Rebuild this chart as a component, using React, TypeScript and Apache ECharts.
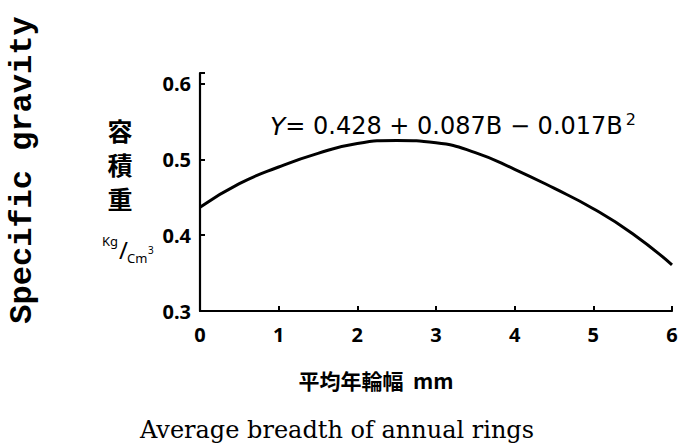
import React, { useEffect, useRef } from "react";
import * as echarts from "echarts";

const breadth = [0, 0.5, 1, 1.5, 2, 2.5, 3, 3.5, 4, 4.5, 5, 5.5, 6];
const gravity = [0.437, 0.468, 0.49, 0.508, 0.521, 0.525, 0.522, 0.509, 0.487, 0.462, 0.435, 0.402, 0.361];
const xTicks = [0, 1, 2, 3, 4, 5, 6];
const yTicks = [0.3, 0.4, 0.5, 0.6];

export default function App() {
  const ref = useRef<HTMLDivElement>(null);
  useEffect(() => {
    if (!ref.current) return;
    const chart = echarts.init(ref.current, null, { renderer: "svg" });
    const data = breadth.map((b, i) => [b, gravity[i]]);
    chart.setOption({
      animation: false,
      backgroundColor: "#fff",
      grid: { left: 200, top: 73, right: 17, bottom: 132, containLabel: false },
      xAxis: {
        type: "value",
        min: xTicks[0],
        max: xTicks[xTicks.length - 1],
        interval: 1,
        splitLine: { show: false },
        axisLine: { lineStyle: { color: "#000", width: 2.2 } },
        axisTick: { inside: true, length: 5, lineStyle: { color: "#000", width: 2 } },
        axisLabel: {
          color: "#000",
          fontSize: 20,
          fontWeight: "bold",
          fontFamily: "Noto Sans",
          margin: 13,
          formatter: (v: number) => String(v),
        },
      },
      yAxis: {
        type: "value",
        min: yTicks[0],
        max: 0.614,
        interval: 0.1,
        splitLine: { show: false },
        axisLine: { lineStyle: { color: "#000", width: 2.2 } },
        axisTick: { inside: true, length: 5, lineStyle: { color: "#000", width: 2 } },
        axisLabel: {
          color: "#000",
          fontSize: 20,
          fontWeight: "bold",
          fontFamily: "Noto Sans",
          margin: 9,
          formatter: (v: number) => {
            const t = yTicks.find((y) => Math.abs(y - v) < 1e-6);
            return t === undefined ? "" : t.toFixed(1);
          },
        },
      },
      series: [
        {
          type: "line",
          data,
          smooth: true,
          showSymbol: false,
          lineStyle: { color: "#000", width: 3 },
        },
      ],
      graphic: [
        {
          type: "text",
          x: 270,
          y: 126,
          style: {
            text: "{y|Y}{a|= 0.428 + 0.087B − 0.017B}{s|2}",
            verticalAlign: "middle",
            rich: {
              y: { fontSize: 25, fontFamily: "DejaVu Sans", fill: "#000", fontStyle: "italic" },
              a: { fontSize: 24, fontFamily: "DejaVu Sans", fill: "#000" },
              s: { fontSize: 16, fontFamily: "DejaVu Sans", fill: "#000", verticalAlign: "top", padding: [0, 0, 14, 3] },
            },
          },
        },
        {
          type: "text",
          x: 22,
          y: 170,
          rotation: Math.PI / 2,
          style: {
            text: "Specific gravity",
            fontSize: 32,
            fontWeight: "bold",
            fontFamily: "Liberation Mono",
            fill: "#000",
            align: "center",
            verticalAlign: "middle",
          },
        },
        {
          type: "text",
          x: 120,
          y: 164,
          style: {
            text: "容\n積\n重",
            fontSize: 25,
            lineHeight: 34,
            fontWeight: "bold",
            fontFamily: "Noto Sans CJK JP",
            fill: "#000",
            align: "center",
            verticalAlign: "middle",
          },
        },
        {
          type: "text",
          x: 102,
          y: 234,
          style: { text: "Kg", fontSize: 13, fontFamily: "Noto Sans", fill: "#000" },
        },
        {
          type: "text",
          x: 119,
          y: 237,
          style: { text: "/", fontSize: 24, fontFamily: "Noto Sans", fill: "#000" },
        },
        {
          type: "text",
          x: 127,
          y: 251,
          style: { text: "Cm", fontSize: 13, fontFamily: "Noto Sans", fill: "#000" },
        },
        {
          type: "text",
          x: 148,
          y: 245,
          style: { text: "3", fontSize: 10, fontFamily: "Noto Sans", fill: "#000" },
        },
        {
          type: "text",
          x: 376,
          y: 380,
          style: {
            text: "平均年輪幅  mm",
            fontSize: 21,
            fontWeight: "bold",
            fontFamily: "Noto Sans CJK JP",
            fill: "#000",
            align: "center",
            verticalAlign: "middle",
          },
        },
        {
          type: "text",
          x: 337,
          y: 430,
          style: {
            text: "Average breadth of annual rings",
            fontSize: 24,
            fontFamily: "DejaVu Serif",
            fill: "#000",
            align: "center",
            verticalAlign: "middle",
          },
        },
      ],
    });
    return () => chart.dispose();
  }, []);
  return <div ref={ref} style={{ width: 689, height: 443, position: "absolute", left: 0, top: 0 }} />;
}
